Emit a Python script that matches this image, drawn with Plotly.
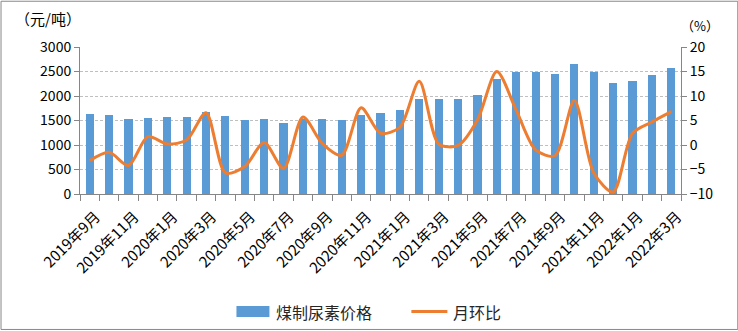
import plotly.graph_objects as go

# Monthly series, Sep 2019 – Mar 2022
months = [
    "2019年9月", "2019年10月", "2019年11月", "2019年12月",
    "2020年1月", "2020年2月", "2020年3月", "2020年4月", "2020年5月", "2020年6月",
    "2020年7月", "2020年8月", "2020年9月", "2020年10月", "2020年11月", "2020年12月",
    "2021年1月", "2021年2月", "2021年3月", "2021年4月", "2021年5月", "2021年6月",
    "2021年7月", "2021年8月", "2021年9月", "2021年10月", "2021年11月", "2021年12月",
    "2022年1月", "2022年2月", "2022年3月",
]
# Coal-based urea price (yuan/ton)
price = [
    1630, 1610, 1530, 1550, 1570, 1570, 1670, 1590, 1510, 1530,
    1450, 1540, 1530, 1510, 1610, 1650, 1710, 1930, 1930, 1930,
    2030, 2340, 2500, 2490, 2440, 2660, 2500, 2260, 2300, 2420, 2580,
]
# Month-on-month change (%)
mom = [
    -3.2, -1.5, -4.2, 1.7, 0.2, 1.0, 6.6, -5.7, -4.4, 0.5,
    -4.8, 5.7, 0.3, -2.1, 7.6, 2.4, 3.6, 13.0, 0.2, -0.1,
    5.1, 15.0, 7.1, -1.0, -2.2, 9.1, -5.7, -9.6, 2.4, 4.7, 6.8,
]
tick_text = [m if i % 2 == 0 else "" for i, m in enumerate(months)]

BAR_NAME, LINE_NAME = "煤制尿素价格", "月环比"
BAR_COLOR, LINE_COLOR = "#5B9BD5", "#ED7D31"
FONT = "Noto Sans CJK SC, Microsoft YaHei, sans-serif"
AXIS = "#868686"
W, H = 738, 331
L, R, T, B = 79.5, 57.3, 46.5, 136.7

fig = go.Figure()
fig.add_trace(go.Bar(
    x=months, y=price, name=BAR_NAME,
    marker=dict(color=BAR_COLOR, line=dict(width=0)),
    width=0.42,
))
fig.add_trace(go.Scatter(
    x=months, y=mom, name=LINE_NAME, yaxis="y2", mode="lines",
    line=dict(color=LINE_COLOR, width=3, shape="spline", smoothing=0.8),
))

pw = W - L - R
ph = H - T - B
def px(x):
    return (x - L) / pw
def py(y):
    return (H - B - y) / ph

# legend drawn as shapes + text below the axis labels
legend_y = 312.5
shapes = [
    dict(type="rect", xref="paper", yref="paper",
         x0=px(0.5), x1=px(W - 0.5), y0=py(0.5), y1=py(H - 0.5),
         line=dict(color="#888888", width=1), fillcolor="rgba(0,0,0,0)",
         layer="below"),
    dict(type="rect", xref="paper", yref="paper",
         x0=px(236), x1=px(269), y0=py(307), y1=py(318),
         line=dict(width=0), fillcolor=BAR_COLOR),
    dict(type="line", xref="paper", yref="paper",
         x0=px(411), x1=px(447), y0=py(legend_y), y1=py(legend_y),
         line=dict(color=LINE_COLOR, width=3)),
]
annotations = [
    dict(text="（元/吨）", xref="paper", yref="paper", x=px(12), y=py(18),
         xanchor="left", yanchor="middle", showarrow=False,
         font=dict(size=15, color="#000000")),
    dict(text="（%）", xref="paper", yref="paper", x=px(679), y=py(25),
         xanchor="left", yanchor="middle", showarrow=False,
         font=dict(size=13, color="#000000")),
    dict(text=BAR_NAME, xref="paper", yref="paper", x=px(274), y=py(legend_y),
         xanchor="left", yanchor="middle", showarrow=False,
         font=dict(size=16, color="#262626")),
    dict(text=LINE_NAME, xref="paper", yref="paper", x=px(451), y=py(legend_y),
         xanchor="left", yanchor="middle", showarrow=False,
         font=dict(size=16, color="#262626")),
]

fig.update_layout(
    width=W, height=H,
    margin=dict(l=L, r=R, t=T, b=B),
    paper_bgcolor="white", plot_bgcolor="white",
    font=dict(family=FONT, size=13, color="#000000"),
    bargap=0,
    showlegend=False,
    xaxis=dict(
        type="category", tickvals=months, ticktext=tick_text,
        tickson="boundaries", ticks="outside", ticklen=6, tickcolor=AXIS,
        showline=True, linecolor=AXIS, linewidth=1, showgrid=False,
        tickangle=-45, tickfont=dict(size=15), automargin=False,
        ticklabelstandoff=7, ticklabelshift=6,
        range=[-0.5, len(months) - 0.5],
    ),
    yaxis=dict(
        range=[0, 3000], dtick=500, showline=True, linecolor=AXIS,
        ticks="outside", ticklen=5, tickcolor=AXIS, automargin=False,
        showgrid=True, gridcolor="#BFBFBF", griddash="3px,2px", gridwidth=1,
        zeroline=False, tickfont=dict(size=14),
    ),
    yaxis2=dict(
        range=[-10, 20], dtick=5, overlaying="y", side="right",
        showline=True, linecolor=AXIS, ticks="outside", ticklen=5,
        automargin=False,
        tickcolor=AXIS, showgrid=False, zeroline=False, tickfont=dict(size=14),
    ),
    annotations=annotations,
    shapes=shapes,
)

fig.write_html("out.html")
